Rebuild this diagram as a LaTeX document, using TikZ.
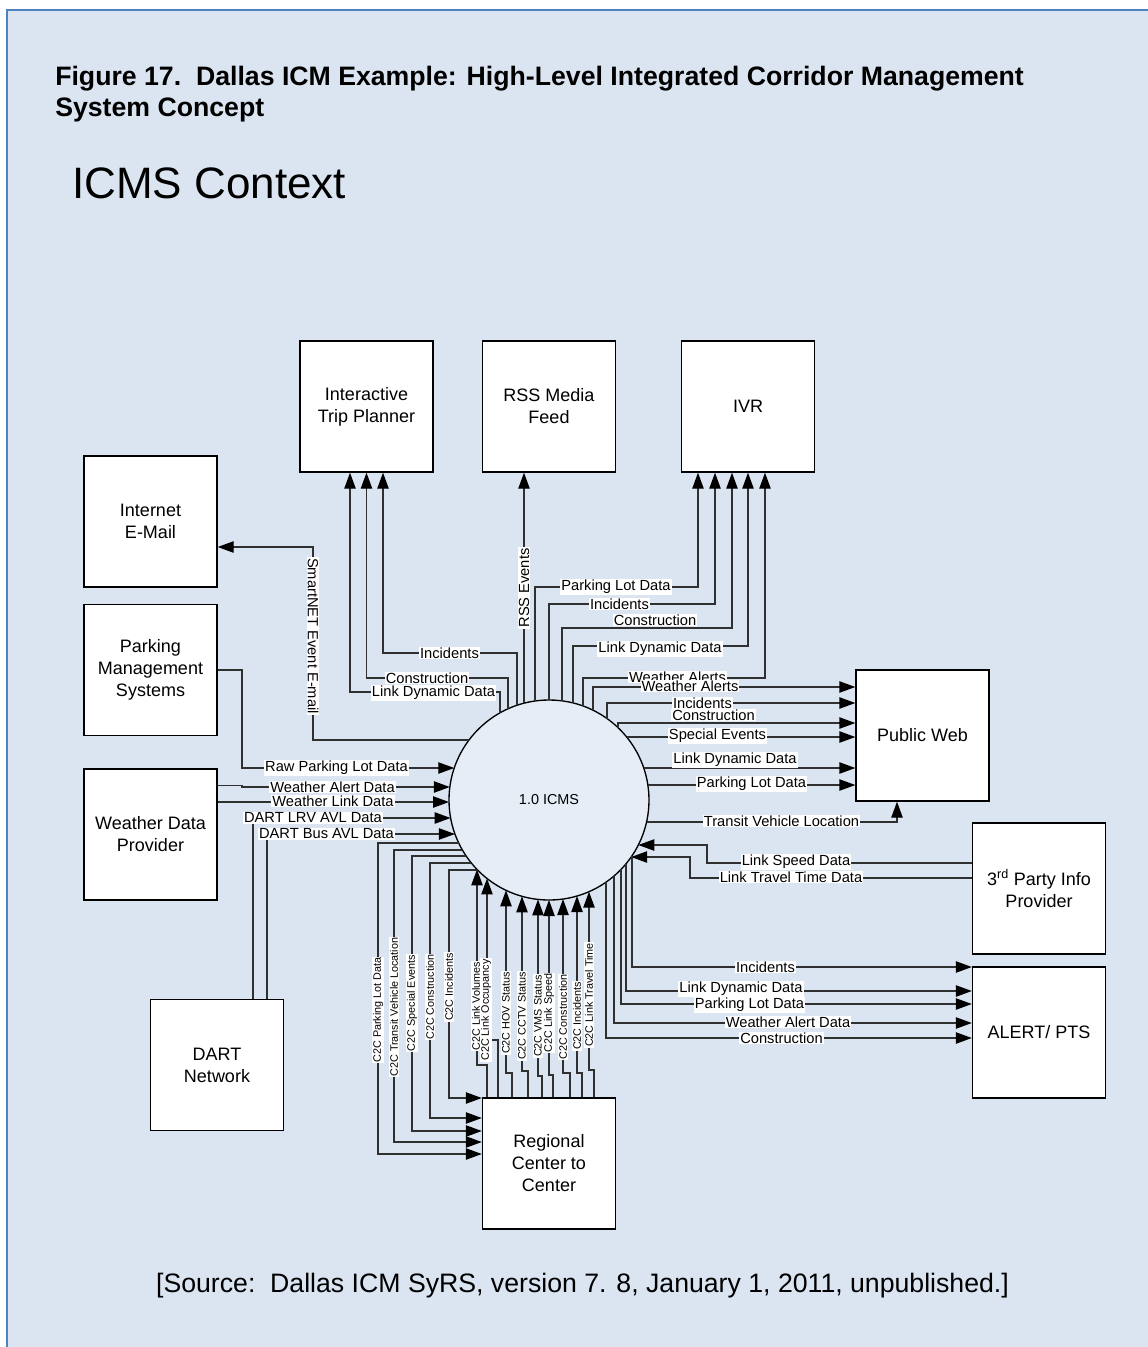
\documentclass[tikz,border=0pt]{standalone}
\usepackage{fontspec}
\setmainfont{Liberation Sans}
\usetikzlibrary{arrows.meta,calc}
\definecolor{bg}{HTML}{DBE5F1}
\definecolor{framec}{HTML}{4F81BD}
\definecolor{cfill}{HTML}{E6EDF7}
\definecolor{ln}{HTML}{303030}
\newcommand\sq[1]{sqrt(10000-(#1)^2)}
\tikzset{
  box/.style={draw=black, fill=white, line width=1pt, minimum width=99.75pt, minimum height=98.25pt,
    align=center, inner sep=0pt, font=\fontsize{13.5}{16.5}\selectfont},
  conn/.style={draw=ln, line width=1pt},
  arr/.style={conn, -{Triangle[length=12pt,width=8.5pt,color=black]}},
  lbl/.style={fill=white, inner sep=0.8pt, font=\fontsize{11}{11}\selectfont},
  clbl/.style={fill=white, inner sep=0.6pt, rotate=90, font=\fontsize{8.1}{8.1}\selectfont},
}
\begin{document}
\begin{tikzpicture}[x=0.75pt,y=-0.75pt]
\useasboundingbox (0,0) rectangle (1147,1347);
\fill[white] (0,0) rectangle (1147,1347);
\draw[framec, line width=2pt, fill=bg] (7,10) rectangle (1170,1370);

% titles
\node[anchor=base west, inner sep=0pt, font=\fontsize{20}{20}\selectfont\bfseries] (t1) at (55,85.5)
  {Figure 17.\ \ Dallas ICM Example: High-Level Integrated Corridor Management};
\node[anchor=base west, inner sep=0pt, font=\fontsize{20}{20}\selectfont\bfseries] (t2) at (55,116.5)
  {System Concept};
\node[anchor=base west, inner sep=0pt, font=\fontsize{33}{33}\selectfont] (t3) at (72,198) {ICMS Context};
\node[anchor=base, inner sep=0pt, font=\fontsize{20}{20}\selectfont] (src) at (582.5,1292)
  {[Source:\ \ Dallas ICM SyRS, version 7. 8, January 1, 2011, unpublished.]};

% boxes
\node[box] (itp) at (366.5,406.5) {Interactive\\Trip Planner};
\node[box] (rss) at (549,406.5) {RSS Media\\Feed};
\node[box] (ivr) at (748,406.5) {IVR};
\node[box] (email) at (150.5,521.5) {Internet\\E-Mail};
\node[box] (pms) at (150.5,670) {Parking\\Management\\Systems};
\node[box] (wdp) at (150.5,834.5) {Weather Data\\Provider};
\node[box] (dart) at (217,1065) {DART\\Network};
\node[box] (pw) at (922.5,735.5) {Public Web};
\node[box] (tpi) at (1039,888.5) {3\textsuperscript{rd} Party Info\\Provider};
\node[box] (alert) at (1039,1032.5) {ALERT/ PTS};
\node[box] (rcc) at (549,1163.5) {Regional\\Center to\\Center};

% central process
\node[circle, draw=black, line width=1pt, fill=cfill, minimum size=150pt, inner sep=0pt,
  font=\fontsize{10.8}{10.8}\selectfont] (c) at (549,800) {1.0 ICMS};

% to Interactive Trip Planner
\draw[arr] ($(c.center)+(-32,{-\sq{-32}})$) |- (383,653) -- (383,653 |- itp.south);
\draw[arr] ($(c.center)+(-41,{-\sq{-41}})$) |- (366.5,678) -- (366.5,678 |- itp.south);
\draw[arr] ($(c.center)+(-49,{-\sq{-49}})$) |- (350,692) -- (350,692 |- itp.south);
% to RSS
\draw[arr] ($(c.center)+(-25,{-\sq{-25}})$) -- (524,600 |- rss.south);
% to IVR
\draw[arr] ($(c.center)+(-14,{-\sq{-14}})$) |- (698,587) -- (698,587 |- ivr.south);
\draw[arr] ($(c.center)+(0,-100)$) |- (715,604) -- (715,604 |- ivr.south);
\draw[arr] ($(c.center)+(13,{-\sq{13}})$) |- (732,628) -- (732,628 |- ivr.south);
\draw[arr] ($(c.center)+(24,{-\sq{24}})$) |- (748,646) -- (748,646 |- ivr.south);
\draw[arr] ($(c.center)+(34,{-\sq{34}})$) |- (765,678) -- (765,678 |- ivr.south);
% to Public Web
\draw[arr] ($(c.center)+(44,{-\sq{44}})$) |- (pw.west |- 0,687);
\draw[arr] ($(c.center)+(58,{-\sq{58}})$) |- (pw.west |- 0,703);
\draw[arr] ($(c.center)+(69,{-\sq{69}})$) |- (pw.west |- 0,723);
\draw[arr] ($(c.center)+({\sq{-63}},-63)$) -- (pw.west |- 0,737);
\draw[arr] ($(c.center)+({\sq{-32}},-32)$) -- (pw.west |- 0,768);
\draw[arr] ($(c.center)+({\sq{-15}},-15)$) -- (pw.west |- 0,785);
\draw[arr] ($(c.center)+({\sq{22}},22)$) -| (897,822 |- pw.south);
% from 3rd party
\draw[arr] (tpi.west |- 0,863) -| (707,845) -- ($(c.center)+({\sq{45}},45)$);
\draw[arr] (tpi.west |- 0,878) -| (690,857) -- ($(c.center)+({\sq{57}},57)$);
% to ALERT/PTS
\draw[arr] ($(c.center)+(83,{\sq{83}})$) |- (alert.west |- 0,967);
\draw[arr] ($(c.center)+(77,{\sq{77}})$) |- (alert.west |- 0,991);
\draw[arr] ($(c.center)+(72,{\sq{72}})$) |- (alert.west |- 0,1004);
\draw[arr] ($(c.center)+(65,{\sq{65}})$) |- (alert.west |- 0,1023);
\draw[arr] ($(c.center)+(57,{\sq{57}})$) |- (alert.west |- 0,1038);
% left side
\draw[arr] ($(c.center)+({-\sq{-60}},-60)$) -| (313,547) -- (email.east |- 0,547);
\draw[arr] (pms.east |- 0,670) -| (242,768) -- ($(c.center)+({-\sq{-32}},-32)$);
\draw[arr] (wdp.east |- 0,785.5) -- (242,785.5) -- (242,787) -- ($(c.center)+({-\sq{-13}},-13)$);
\draw[arr] (wdp.east |- 0,802) -- ($(c.center)+({-\sq{2}},2)$);
\draw[arr] (253,900 |- dart.north) |- ($(c.center)+({-\sq{18}},18)$);
\draw[arr] (267,900 |- dart.north) |- ($(c.center)+({-\sq{34}},34)$);
% to Regional Center to Center
\draw[arr] ($(c.center)+({-\sq{43}},43)$) -| (378,1154) -- (rcc.west |- 0,1154);
\draw[arr] ($(c.center)+({-\sq{50}},50)$) -| (394,1142) -- (rcc.west |- 0,1142);
\draw[arr] ($(c.center)+({-\sq{56}},56)$) -| (412,1131) -- (rcc.west |- 0,1131);
\draw[arr] ($(c.center)+({-\sq{63}},63)$) -| (430,1118) -- (rcc.west |- 0,1118);
\draw[arr] ($(c.center)+({-\sq{70}},70)$) -| (449,1098) -- (rcc.west |- 0,1098);
% from Regional Center to Center
\draw[arr] (487,1000 |- rcc.north) -- (487,1065) -- (477,1065) -- ($(c.center)+(-72,{\sq{-72}})$);
\draw[arr] (498,1000 |- rcc.north) -- (498,1040) -- (487,1040) -- ($(c.center)+(-62,{\sq{-62}})$);
\draw[arr] (512,1000 |- rcc.north) -- (512,1073) -- (506,1073) -- ($(c.center)+(-43,{\sq{-43}})$);
\draw[arr] (528,1000 |- rcc.north) -- (528,1071) -- (522,1071) -- ($(c.center)+(-27,{\sq{-27}})$);
\draw[arr] (542,1000 |- rcc.north) -- (542,1076) -- (538,1076) -- ($(c.center)+(-11,{\sq{-11}})$);
\draw[arr] (553,1000 |- rcc.north) -- (553,1075) -- (549,1075) -- ($(c.center)+(0,100)$);
\draw[arr] (570,1000 |- rcc.north) -- (570,1073) -- (563,1073) -- ($(c.center)+(14,{\sq{14}})$);
\draw[arr] (582,1000 |- rcc.north) -- (582,1073) -- (577,1073) -- ($(c.center)+(28,{\sq{28}})$);
\draw[arr] (594,1000 |- rcc.north) -- (594,1070) -- (589,1070) -- ($(c.center)+(40,{\sq{40}})$);

% labels
\node[lbl] at (449.5,653) {Incidents};
\node[lbl] at (427,678) {Construction};
\node[lbl] at (433.5,693) {Link Dynamic Data};
\node[lbl, rotate=90] at (524,588) {RSS Events};
\node[lbl] at (616,587) {Parking Lot Data};
\node[lbl] at (619.5,604) {Incidents};
\node[lbl] at (655,620) {Construction};
\node[lbl] at (660,649) {Link Dynamic Data};
\node[lbl] at (677.5,677) {Weather Alerts};
\node[lbl] at (690,686) {Weather Alerts};
\node[lbl] at (702.5,703) {Incidents};
\node[lbl] at (713.5,715) {Construction};
\node[lbl] at (717.5,736) {Special Events};
\node[lbl] at (735,760) {Link Dynamic Data};
\node[lbl] at (751.5,784) {Parking Lot Data};
\node[lbl] at (781.5,821) {Transit Vehicle Location};
\node[lbl] at (796,862) {Link Speed Data};
\node[lbl] at (791,877) {Link Travel Time Data};
\node[lbl] at (765.5,967) {Incidents};
\node[lbl] at (741,989) {Link Dynamic Data};
\node[lbl] at (749.5,1005) {Parking Lot Data};
\node[lbl] at (788,1022) {Weather Alert Data};
\node[lbl] at (781.5,1038) {Construction};
\node[lbl, rotate=-90] at (313,636) {SmartNET Event E-mail};
\node[lbl] at (336.5,768) {Raw Parking Lot Data};
\node[lbl] at (333,801) {Weather Link Data};
\node[lbl] at (332.5,787) {Weather Alert Data};
\node[lbl] at (313,818) {DART LRV AVL Data};
\node[lbl] at (326.5,834) {DART Bus AVL Data};

\node[clbl] at (378,1010) {C2C Parking Lot Data};
\node[clbl] at (394,1007) {C2C Transit Vehicle Location};
\node[clbl] at (412,1003) {C2C Special Events};
\node[clbl] at (430,997) {C2C Construction};
\node[clbl] at (449,987) {C2C Incidents};
\node[clbl] at (486,1010) {C2C Link Occupancy};
\node[clbl] at (476,1006) {C2C Link Volumes};
\node[clbl] at (506,1013) {C2C HOV Status};
\node[clbl] at (522,1016) {C2C CCTV Status};
\node[clbl] at (538,1016) {C2C VMS Status};
\node[clbl] at (549,1013) {C2C Link Speed};
\node[clbl] at (563,1017) {C2C Construction};
\node[clbl] at (577,1016) {C2C Incidents};
\node[clbl] at (589,995) {C2C Link Travel Time};
\end{tikzpicture}
\end{document}
